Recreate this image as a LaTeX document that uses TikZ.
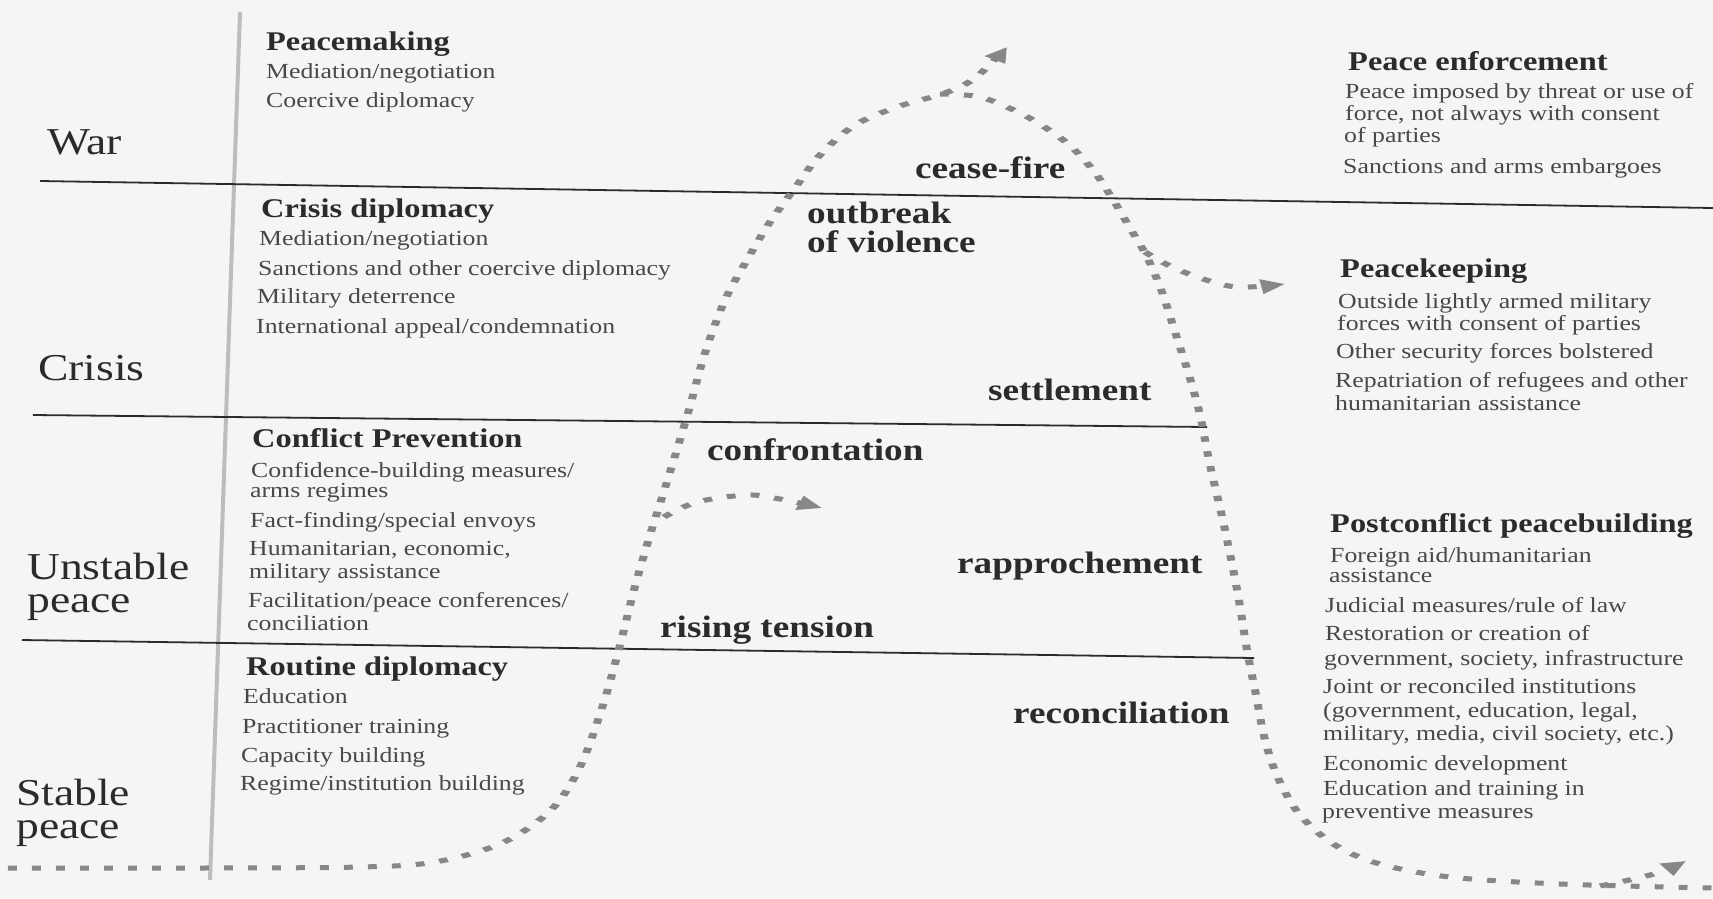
\documentclass[tikz,border=0pt]{standalone}
\usepackage{fontspec}
\setmainfont{Liberation Serif}[FakeStretch=1.2]
\usetikzlibrary{arrows.meta}
\definecolor{bg}{HTML}{F5F5F4}
\definecolor{ink}{HTML}{2B2B2B}
\definecolor{bodyink}{HTML}{484848}
\definecolor{dots}{HTML}{878787}
\definecolor{vline}{HTML}{BDBDBD}
\begin{document}
\begin{tikzpicture}[x=1pt,y=-1pt,
  hd/.style={anchor=base west, inner sep=0pt, font=\fontsize{27}{30}\selectfont\bfseries, text=ink},
  bd/.style={anchor=base west, inner sep=0pt, font=\fontsize{21.5}{24}\selectfont, text=bodyink},
  rowlab/.style={anchor=base west, inner sep=0pt, align=left, font=\fontsize{38}{33}\selectfont, text=ink},
  lab/.style={anchor=base west, inner sep=0pt, font=\fontsize{31}{33}\selectfont\bfseries, text=ink},
  band/.style={draw=ink, line width=1.8pt},
  divider/.style={draw=vline, line width=4pt},
  curvedots/.style={draw=dots, line width=5pt, dash pattern=on 5.5pt off 9.5pt},
  tipped/.style={-{Triangle[length=15pt,width=14pt]}}]
\useasboundingbox (0,0) rectangle (1713,898);
\fill[bg] (0,0) rectangle (1713,898);

% vertical divider
\coordinate (vt) at (240,12);
\coordinate (vb) at (210,880);
\draw[divider] (vt) -- (vb);

% band lines
\coordinate (b1w) at (40,181);  \coordinate (b1e) at (1713,208);
\coordinate (b2w) at (33,415);  \coordinate (b2e) at (1207,427);
\coordinate (b3w) at (22,640);  \coordinate (b3e) at (1254,658);
\draw[band] (b1w) -- (b1e);
\draw[band] (b2w) -- (b2e);
\draw[band] (b3w) -- (b3e);

% dotted curve
\begin{scope}[x=0.625pt, transform canvas={xscale=1.6}]
\draw[curvedots, tipped] plot[smooth, tension=0.55] coordinates {(8,868) (200,868) (360,867) (435,862) (502,843) (551,810) (580,767) (603,705) (620,645) (634,590) (650,535) (666,485) (688,413) (705,353) (725,300) (747,260) (770,222) (795,188) (820,155) (855,125) (900,106) (945,93) (975,78) (1007,47)};
\draw[curvedots] plot[smooth, tension=0.55] coordinates {(940,94) (975,96) (1000,104) (1033,120) (1067,143) (1093,170) (1112,198) (1130,228) (1147,257) (1162,292) (1176,335) (1189,375) (1200,415) (1210,465) (1225,530) (1238,595) (1247,650) (1256,695) (1265,740) (1278,778) (1300,815) (1335,845) (1380,864) (1450,877) (1560,884) (1713,888)};
\draw[curvedots, tipped] plot[smooth, tension=0.55] coordinates {(1145,252) (1168,265) (1200,278) (1237,287) (1285,284)};
\draw[curvedots, tipped] plot[smooth, tension=0.55] coordinates {(664,517) (697,502) (747,495) (780,499) (822,508)};
\draw[curvedots, tipped] plot[smooth, tension=0.55] coordinates {(1600,886) (1650,875) (1686,861)};
\end{scope}

% row labels (anchor = baseline of last line)
\node[rowlab] (war) at (47,154) {War};
\node[rowlab] (crisis) at (38,380) {Crisis};
\node[rowlab] (unst) at (27,612) {Unstable\\peace};
\node[rowlab] (stab) at (16,838) {Stable\\peace};

% left column
\node[hd] (pm) at (266,50) {Peacemaking};
\node[bd] (pm1) at (266,78) {Mediation/negotiation};
\node[bd] (pm2) at (266,107) {Coercive diplomacy};

\node[hd] (cd) at (261,217) {Crisis diplomacy};
\node[bd] (cd1) at (259,245) {Mediation/negotiation};
\node[bd] (cd2) at (258,275) {Sanctions and other coercive diplomacy};
\node[bd] (cd3) at (257,303) {Military deterrence};
\node[bd] (cd4) at (256,333) {International appeal/condemnation};

\node[hd] (cp) at (252,447) {Conflict Prevention};
\node[bd] (cp1) at (251,477) {Confidence-building measures/};
\node[bd] (cp1b) at (250,497) {arms regimes};
\node[bd] (cp2) at (250,527) {Fact-finding/special envoys};
\node[bd] (cp3) at (249,555) {Humanitarian, economic,};
\node[bd] (cp3b) at (249,578) {military assistance};
\node[bd] (cp4) at (248,607) {Facilitation/peace conferences/};
\node[bd] (cp4b) at (247,630) {conciliation};

\node[hd] (rd) at (246,675) {Routine diplomacy};
\node[bd] (rd1) at (243,703) {Education};
\node[bd] (rd2) at (242,733) {Practitioner training};
\node[bd] (rd3) at (241,762) {Capacity building};
\node[bd] (rd4) at (240,790) {Regime/institution building};

% right column
\node[hd] (pe) at (1348,70) {Peace enforcement};
\node[bd] (pe1) at (1345,98) {Peace imposed by threat or use of};
\node[bd] (pe1b) at (1345,120) {force, not always with consent};
\node[bd] (pe1c) at (1344,142) {of parties};
\node[bd] (pe2) at (1343,173) {Sanctions and arms embargoes};

\node[hd] (pk) at (1340,277) {Peacekeeping};
\node[bd] (pk1) at (1338,308) {Outside lightly armed military};
\node[bd] (pk1b) at (1337,330) {forces with consent of parties};
\node[bd] (pk2) at (1336,358) {Other security forces bolstered};
\node[bd] (pk3) at (1335,387) {Repatriation of refugees and other};
\node[bd] (pk3b) at (1335,410) {humanitarian assistance};

\node[hd] (pb) at (1330,532) {Postconflict peacebuilding};
\node[bd] (pb1) at (1330,562) {Foreign aid/humanitarian};
\node[bd] (pb1b) at (1329,582) {assistance};
\node[bd] (pb2) at (1325,612) {Judicial measures/rule of law};
\node[bd] (pb3) at (1325,640) {Restoration or creation of};
\node[bd] (pb3b) at (1324,665) {government, society, infrastructure};
\node[bd] (pb4) at (1323,693) {Joint or reconciled institutions};
\node[bd] (pb4b) at (1323,717) {(government, education, legal,};
\node[bd] (pb4c) at (1323,740) {military, media, civil society, etc.)};
\node[bd] (pb5) at (1323,770) {Economic development};
\node[bd] (pb6) at (1323,795) {Education and training in};
\node[bd] (pb6b) at (1322,818) {preventive measures};

% curve labels
\node[lab] (cf) at (915,178) {cease-fire};
\node[lab] (ob1) at (807,223) {outbreak};
\node[lab] (ob2) at (807,252) {of violence};
\node[lab] (st) at (988,400) {settlement};
\node[lab] (cn) at (707,460) {confrontation};
\node[lab] (ra) at (957,573) {rapprochement};
\node[lab] (rt) at (660,637) {rising tension};
\node[lab] (rc) at (1013,723) {reconciliation};
\end{tikzpicture}
\end{document}
